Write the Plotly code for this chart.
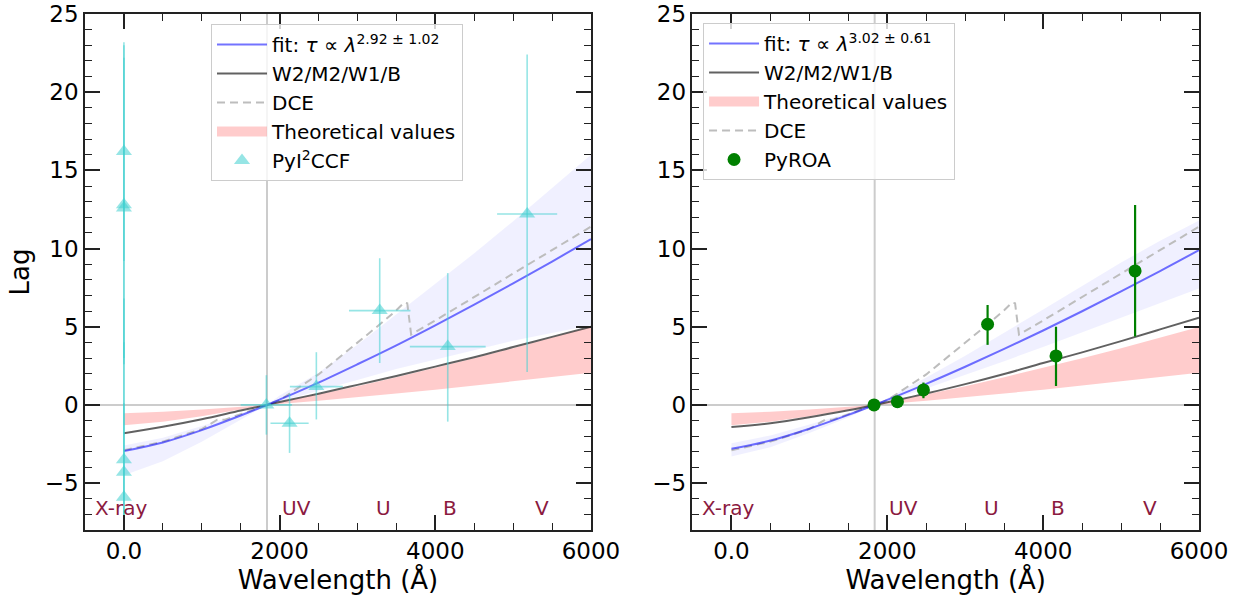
import plotly.graph_objects as go

# ---------------- data ----------------
lam_ref = 1838  # reference wavelength (Å), where lag = 0

wave = [0, 500, 1000, 1500, 1838, 2000, 2500, 3000, 3500, 4000, 4500, 5000, 5500, 6000]

# left panel (PyI2CCF)
fit_left = [-2.95, -2.40, -1.61, -0.68, 0, 0.34, 1.43, 2.60, 3.81, 5.09, 6.41, 7.77, 9.17, 10.60]
fit_left_lo = [-4.5, -3.6, -2.35, -0.95, 0, 0.2, 0.9, 1.6, 2.3, 2.9, 3.5, 4.1, 4.6, 5.1]
fit_left_hi = [-2.6, -2.1, -1.35, -0.55, 0, 0.6, 2.05, 3.85, 5.8, 7.75, 9.7, 11.75, 13.85, 16.0]
uvb_left = [-1.81, -1.40, -0.92, -0.36, 0, 0.18, 0.72, 1.28, 1.85, 2.45, 3.05, 3.70, 4.35, 5.0]

# right panel (PyROA)
fit_right = [-2.81, -2.28, -1.52, -0.64, 0, 0.32, 1.35, 2.44, 3.58, 4.76, 5.99, 7.26, 8.56, 9.90]
fit_right_lo = [-3.3, -2.7, -1.8, -0.8, 0, 0.25, 1.05, 1.9, 2.8, 3.7, 4.6, 5.55, 6.5, 7.45]
fit_right_hi = [-2.45, -1.95, -1.25, -0.5, 0, 0.42, 1.75, 3.15, 4.6, 6.1, 7.6, 9.1, 10.5, 11.8]
uvb_right = [-1.41, -1.17, -0.79, -0.34, 0, 0.17, 0.73, 1.33, 1.98, 2.68, 3.36, 4.08, 4.83, 5.58]

# theoretical band (same in both panels)
theory_a = [-1.30, -1.07, -0.72, -0.31, 0, 0.15, 0.66, 1.20, 1.77, 2.36, 2.99, 3.63, 4.30, 4.99]
theory_b = [-0.53, -0.44, -0.30, -0.13, 0, 0.06, 0.27, 0.49, 0.73, 0.97, 1.23, 1.49, 1.77, 2.05]

# DCE curve (same in both panels)
dce_wave = [0, 500, 1000, 1100, 1200, 1300, 1500, 1838, 2000, 2500, 3000, 3300, 3500, 3600,
            3640, 3660, 3690, 4000, 4500, 5000, 5500, 6000]
dce_lag = [-2.9, -2.35, -1.55, -1.25, -0.95, -0.95, -0.6, 0, 0.3, 1.95, 3.95, 5.2, 6.05, 6.55,
           6.5, 5.8, 4.5, 5.4, 6.9, 8.4, 9.9, 11.4]

# PyI2CCF lags
ccf_wave = [0, 0, 0, 0, 0, 0, 1830, 2128, 2472, 3286, 4160, 5180]
ccf_wave_err = [0, 0, 0, 0, 0, 0, 330, 245, 340, 395, 487, 386]
ccf_lag = [16.2, 12.8, 12.6, -3.5, -4.3, -5.9, 0.0, -1.17, 1.17, 6.03, 3.73, 12.21]
ccf_err_hi = [7.0, 10.2, 9.6, 10.3, 8.3, 6.0, 1.9, 1.9, 2.2, 3.35, 4.7, 10.2]
ccf_err_lo = [7.0, 10.2, 9.6, 10.3, 8.3, 6.0, 1.9, 1.9, 2.1, 3.35, 4.8, 10.1]

# PyROA lags
roa_wave = [1830, 2130, 2464, 3287, 4165, 5180]
roa_lag = [0.0, 0.21, 0.96, 5.16, 3.13, 8.57]
roa_err_hi = [0.12, 0.18, 0.47, 1.23, 1.87, 4.22]
roa_err_lo = [0.12, 0.18, 0.53, 1.32, 1.92, 4.20]

band_names = ["X-ray", "UV", "U", "B", "V"]
band_label_x = [-400, 2000, 3210, 4075, 5250]
band_label_y = -6.6

x_major = [0, 2000, 4000, 6000]
x_major_text = ["0.0", "2000", "4000", "6000"]
x_minor = [500, 1000, 1500, 2500, 3000, 3500, 4500, 5000, 5500]

fit_label_left = "fit: <i>τ</i> ∝ <i>λ</i><sup>2.92 ± 1.02</sup>"
fit_label_right = "fit: <i>τ</i> ∝ <i>λ</i><sup>3.02 ± 0.61</sup>"

# ---------------- styles ----------------
FONT = "DejaVu Sans"
C_FIT = "rgba(0,0,255,0.55)"
C_FITBAND = "rgba(0,0,255,0.06)"
C_UVB = "rgba(0,0,0,0.62)"
C_DCE = "#bdbdbd"
C_THEORY = "rgba(255,0,0,0.2)"
C_CCF = "rgba(64,208,208,0.55)"
C_ROA = "#008000"
C_BAND_TXT = "#8b1a3f"

fig = go.Figure()


def band_polygon(xs, a, b):
    return xs + xs[::-1], a + b[::-1]


def add_panel(xa, ya, legend, fit, fit_lo, fit_hi, uvb, fit_name, theory_rank, dce_rank):
    px, py = band_polygon(wave, fit_hi, fit_lo)
    fig.add_trace(go.Scatter(x=px, y=py, fill="toself", fillcolor=C_FITBAND, mode="lines",
                             line=dict(width=0), showlegend=False, hoverinfo="skip",
                             xaxis=xa, yaxis=ya))
    tx, ty = band_polygon(wave, theory_a, theory_b)
    fig.add_trace(go.Scatter(x=tx, y=ty, fill="toself", fillcolor=C_THEORY, mode="lines",
                             line=dict(width=0, color=C_THEORY), showlegend=False,
                             legendgroup=legend + "th", xaxis=xa, yaxis=ya))
    # legend patch for the theoretical band
    fig.add_trace(go.Scatter(x=[None], y=[None], mode="lines",
                             line=dict(width=14, color=C_THEORY), name="Theoretical values",
                             legend=legend, legendrank=theory_rank, legendgroup=legend + "th",
                             xaxis=xa, yaxis=ya))
    fig.add_trace(go.Scatter(x=dce_wave, y=dce_lag, mode="lines",
                             line=dict(color=C_DCE, width=2, dash="8px,5px"), name="DCE",
                             legend=legend, legendrank=dce_rank, legendgroup=legend + "dce",
                             xaxis=xa, yaxis=ya))
    fig.add_trace(go.Scatter(x=wave, y=uvb, mode="lines", line=dict(color=C_UVB, width=2, shape="spline"),
                             name="W2/M2/W1/B", legend=legend, legendrank=2,
                             legendgroup=legend + "uvb", xaxis=xa, yaxis=ya))
    fig.add_trace(go.Scatter(x=wave, y=fit, mode="lines", line=dict(color=C_FIT, width=2, shape="spline"),
                             name=fit_name, legend=legend, legendrank=1,
                             legendgroup=legend + "fit", xaxis=xa, yaxis=ya))


add_panel("x", "y", "legend", fit_left, fit_left_lo, fit_left_hi, uvb_left, fit_label_left, 4, 3)
add_panel("x2", "y2", "legend2", fit_right, fit_right_lo, fit_right_hi, uvb_right, fit_label_right, 3, 4)

fig.add_trace(go.Scatter(
    x=ccf_wave, y=ccf_lag, mode="markers", name="PyI<sup>2</sup>CCF",
    marker=dict(symbol="triangle-up", size=14, color=C_CCF, line=dict(width=0)),
    error_y=dict(type="data", array=ccf_err_hi, arrayminus=ccf_err_lo, color=C_CCF,
                 thickness=1.6, width=0),
    error_x=dict(type="data", array=ccf_wave_err, color=C_CCF, thickness=1.6, width=0),
    legend="legend", legendrank=5, legendgroup="ccf", xaxis="x", yaxis="y"))

fig.add_trace(go.Scatter(
    x=roa_wave, y=roa_lag, mode="markers", name="PyROA",
    marker=dict(symbol="circle", size=13, color=C_ROA, line=dict(width=0)),
    error_y=dict(type="data", array=roa_err_hi, arrayminus=roa_err_lo, color=C_ROA,
                 thickness=2.2, width=0),
    legend="legend2", legendrank=5, legendgroup="roa", xaxis="x2", yaxis="y2"))

# reference lines
for xr, yr in (("x", "y"), ("x2", "y2")):
    fig.add_shape(type="line", xref=xr, yref=yr + " domain", x0=lam_ref, x1=lam_ref, y0=0, y1=1,
                  line=dict(color="#cccccc", width=2), layer="below")
    fig.add_shape(type="line", xref=xr + " domain", yref=yr, x0=0, x1=1, y0=0, y1=0,
                  line=dict(color="#cccccc", width=2), layer="below")
    for name, bx in zip(band_names, band_label_x):
        fig.add_annotation(x=bx, y=band_label_y, xref=xr, yref=yr, text=name, showarrow=False,
                           xanchor="left", yanchor="middle",
                           font=dict(family=FONT, size=20, color=C_BAND_TXT))

axis_common = dict(
    showline=True, linecolor="#222222", linewidth=1.5, mirror="ticks",
    ticks="inside", ticklen=15, tickwidth=1.5, tickcolor="#222222",
    showgrid=False, zeroline=False, automargin=False,
    tickfont=dict(family=FONT, size=23, color="black"),
)
xcommon = dict(axis_common, range=[-500, 6000], tickmode="array", tickvals=x_major,
               ticktext=x_major_text,
               minor=dict(tickmode="array", tickvals=x_minor, ticks="inside", ticklen=7,
                          tickwidth=1.2, tickcolor="#222222"),
               title=dict(text="Wavelength (Å)", font=dict(family=FONT, size=26, color="black"),
                          standoff=6))
ycommon = dict(axis_common, range=[-8, 25], tickmode="linear", tick0=0, dtick=5,
               minor=dict(dtick=1, ticks="inside", ticklen=7, tickwidth=1.2, tickcolor="#222222"))

legend_common = dict(xanchor="left", yanchor="top",
                     bgcolor="rgba(255,255,255,0.8)", bordercolor="#cccccc", borderwidth=1,
                     font=dict(family=FONT, size=20, color="black"), tracegroupgap=4,
                     traceorder="normal", itemwidth=50)

fig.update_layout(
    width=1243, height=597,
    margin=dict(l=85, r=44, t=14, b=67),
    paper_bgcolor="white", plot_bgcolor="white",
    font=dict(family=FONT, color="black"),
    xaxis=dict(xcommon, domain=[0, 0.4542], anchor="y"),
    xaxis2=dict(xcommon, domain=[0.5453, 1], anchor="y2"),
    yaxis=dict(ycommon, anchor="x",
               title=dict(text="Lag", font=dict(family=FONT, size=26, color="black"), standoff=8)),
    yaxis2=dict(ycommon, anchor="x2"),
    legend=dict(legend_common, x=0.1131, y=0.9806),
    legend2=dict(legend_common, x=0.5548, y=0.9826),
    showlegend=True,
)

fig.write_html("out.html")
